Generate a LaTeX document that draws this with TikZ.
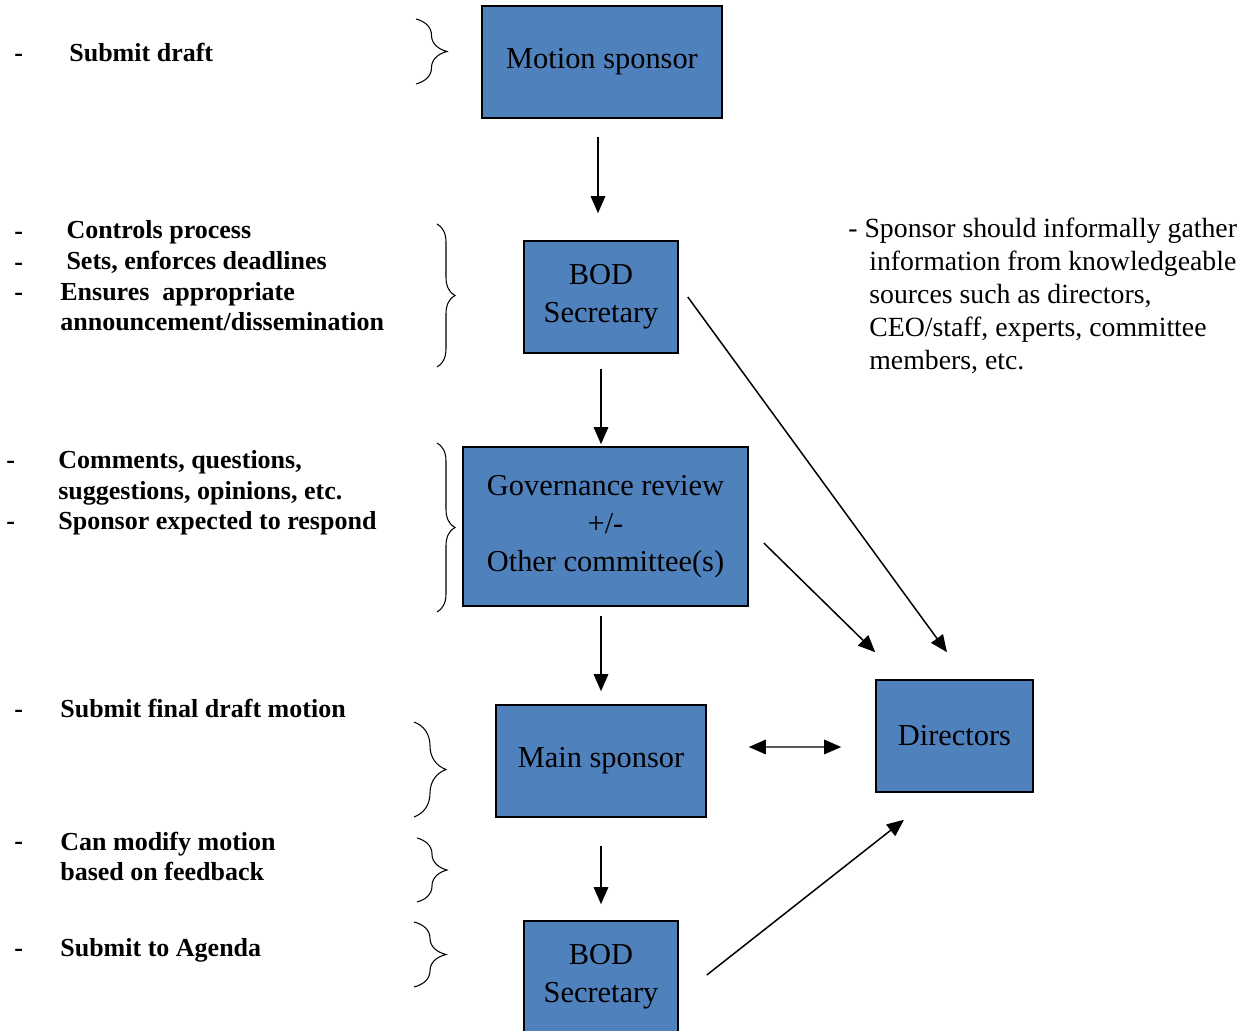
\documentclass[tikz,border=0pt]{standalone}
\usepackage{fontspec}
\setmainfont{Liberation Serif}
\usetikzlibrary{arrows.meta,decorations.pathreplacing}
\definecolor{boxblue}{HTML}{4F81BD}

\begin{document}
\begin{tikzpicture}[
    x=0.2mm, y=-0.2mm,
    >={Triangle[length=3.4mm,width=2.9mm]},
    stage/.style={draw=black, line width=0.9pt, fill=boxblue, align=center,
                  font=\fontsize{17.3}{21.5}\selectfont, inner sep=0pt},
    note/.style={align=left, anchor=base west, inner sep=0pt,
                 font=\fontsize{14.8}{17.6}\selectfont\bfseries},
    aside/.style={align=left, anchor=base west, inner sep=0pt,
                  font=\fontsize{15.8}{18.9}\selectfont},
    flow/.style={->, line width=0.85pt},
    brc/.style={decorate, line width=0.6pt},
  ]
  \useasboundingbox (0,0) rectangle (1254,1031);

  % --- main column of stages ---
  \node[stage, minimum width=48mm,   minimum height=22.4mm] (motion) at (602,62)    {Motion sponsor};
  \node[stage, minimum width=30.8mm, minimum height=22.4mm] (bod1)   at (601,297)   {BOD\\Secretary};
  \node[stage, minimum width=57mm,   minimum height=31.8mm] (gov)    at (605.5,526.5) {Governance review\\+/-\\Other committee(s)};
  \node[stage, minimum width=42mm,   minimum height=22.4mm] (main)   at (601,761)   {Main sponsor};
  \node[stage, minimum width=30.8mm, minimum height=22.4mm] (bod2)   at (601,977)   {BOD\\Secretary};
  \node[stage, minimum width=31.4mm, minimum height=22.4mm] (dirs)   at (954.5,736) {Directors};

  % --- notes on the left (base = last line) ---
  \node[note] (d1) at (14,62) {-};
  \node[note] (n1) at (69,62) {Submit draft};
  \node[note] (d2) at (14,301) {-\\-\\-};
  \node[note] (n2) at (60,331) {\hspace{3.5pt}Controls process\\\hspace{3.5pt}Sets, enforces deadlines\\Ensures\ \ appropriate\\announcement/dissemination};
  \node[note] (d3) at (6,530) {-\\\mbox{}\\-};
  \node[note] (n3) at (58,530) {Comments, questions,\\suggestions, opinions, etc.\\Sponsor expected to respond};
  \node[note] (d4) at (14,718) {-};
  \node[note] (n4) at (60,718) {Submit final draft motion};
  \node[note] (d5) at (14,850) {-};
  \node[note] (n5) at (60,881) {Can modify motion\\based on feedback};
  \node[note] (d6) at (14,956) {-};
  \node[note] (n6) at (60,956) {Submit to Agenda};

  % --- note on the right ---
  \node[aside] (side) at (848,370) {- Sponsor should informally gather\\\hspace{8pt} information from knowledgeable\\\hspace{8pt} sources such as directors,\\\hspace{8pt} CEO/staff, experts, committee\\\hspace{8pt} members, etc.};

  % --- braces ---
  \draw[brc, decoration={brace, amplitude=6.2mm}] (416,19)  -- (416,84);
  \draw[brc, decoration={brace, amplitude=3.6mm}] (437,224) -- (437,367);
  \draw[brc, decoration={brace, amplitude=3.6mm}] (437,443) -- (437,612);
  \draw[brc, decoration={brace, amplitude=6.4mm}] (414,722) -- (414,817);
  \draw[brc, decoration={brace, amplitude=6mm}]   (417,838) -- (417,902);
  \draw[brc, decoration={brace, amplitude=6.4mm}] (414,922) -- (414,987);

  % --- main flow ---
  \draw[flow] ([xshift=-0.6mm,yshift=-3.6mm]bod1.north |- motion.south) -- ([xshift=-0.6mm,yshift=5.4mm]bod1.north);
  \draw[flow] ([yshift=-3mm]bod1.south)     -- ([yshift=0.4mm]bod1.south |- gov.north);
  \draw[flow] ([yshift=-1.8mm]main.north |- gov.south) -- ([yshift=2.6mm]main.north);
  \draw[flow] ([yshift=-5.6mm]main.south)   -- ([yshift=3.2mm]bod2.north);

  % --- links to directors ---
  \draw[flow] ([xshift=1.8mm]bod1.east) -- ([xshift=-1.5mm,yshift=5.4mm]dirs.north);
  \draw[flow] ([xshift=3mm,yshift=-3.3mm]gov.east) -- ([yshift=5.4mm]dirs.north west);
  \draw[flow, <->] ([xshift=8.4mm,yshift=2.8mm]main.east) -- ([xshift=-6.8mm,yshift=-2.2mm]dirs.west);
  \draw[flow] ([xshift=5.6mm,yshift=0.4mm]bod2.east) -- ([xshift=-10.1mm,yshift=-5.4mm]dirs.south);
\end{tikzpicture}
\end{document}
